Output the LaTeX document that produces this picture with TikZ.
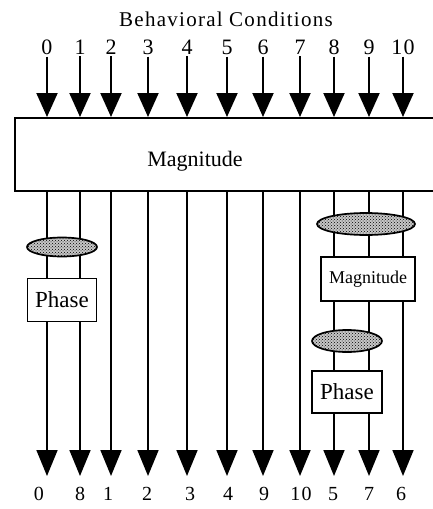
\documentclass[tikz,border=0pt]{standalone}
\usepackage{fontspec}
\setmainfont{Liberation Serif}
\newfontfamily\widefont[LetterSpace=6]{Liberation Serif}
\usetikzlibrary{arrows.meta,shapes.geometric,patterns,backgrounds}

\begin{document}
\begin{tikzpicture}[x=1pt,y=-1pt,
  inarrow/.style={line width=2pt,-{Triangle[width=21pt,length=24pt]}},
  outarrow/.style={line width=1.7pt,-{Triangle[width=21pt,length=26pt]}},
  stipple/.style={ellipse, draw, line width=1.7pt, inner sep=0pt,
    preaction={fill=black!22}, pattern=crosshatch dots, pattern color=black},
  unit/.style={rectangle, draw, line width=1.7pt, fill=white, inner sep=0pt},
  toplabel/.style={font=\widefont\fontsize{22}{24}\selectfont, inner sep=2pt},
  botlabel/.style={font=\widefont\fontsize{20}{22}\selectfont, inner sep=2pt},
]
\useasboundingbox (0,0) rectangle (433,509);

% title
\node[font=\widefont\fontsize{21}{24}\selectfont] (title) at (226,19) {Behavioral Conditions};

% main magnitude block, open towards the right edge
\node[draw, line width=2pt, anchor=north west, minimum width=440pt,
      minimum height=73pt, inner sep=0pt] (mag) at (14,117) {};
\node[font=\fontsize{22}{24}\selectfont] (magtext) at (195,161) {Magnitude};

% left phase stage (channels 0 and 1)
\node[stipple, minimum width=70pt, minimum height=19pt] (e1) at (62,247) {};
\node[unit, minimum width=69pt, minimum height=43pt,
      font=\fontsize{23}{25}\selectfont] (p1) at (62,300) {Phase};

% right magnitude + phase stages (channels 8, 9, 10)
\node[stipple, minimum width=98pt, minimum height=22pt] (e2) at (366,224) {};
\node[unit, minimum width=94pt, minimum height=44pt,
      font=\fontsize{18}{20}\selectfont] (m2) at (368,279) {Magnitude};
\node[stipple, minimum width=70pt, minimum height=22pt] (e3) at (347,341) {};
\node[unit, minimum width=70pt, minimum height=42pt,
      font=\fontsize{23}{25}\selectfont] (p2) at (347,392) {Phase};

% input labels and arrows
\foreach \x [count=\i from 0] in {47,80,111,148,187,227,263,300,334,369,403} {
  \node[toplabel] (in\i) at (\x,47) {\i};
  \draw[inarrow] (in\i.south) -- (in\i.south |- mag.north);
}

% output labels
\foreach \x/\lab [count=\i from 0] in {39/0,80/8,108/1,147/2,190/3,228/4,264/9,301/10,333/5,369/7,401/6} {
  \node[botlabel] (out\i) at (\x,494) {\lab};
}

% output channels, drawn behind the processing stages
\begin{scope}[on background layer]
\foreach \x [count=\i from 0] in {47,80,111,148,187,227,263,300,334,369,403} {
  \coordinate (tip\i) at (\x,476);
  \draw[outarrow] (tip\i |- mag.south) -- (tip\i);
}
\end{scope}
\end{tikzpicture}
\end{document}
